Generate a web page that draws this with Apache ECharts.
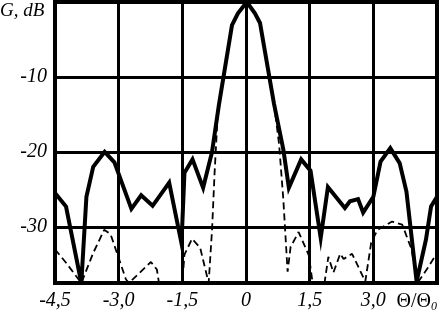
<!DOCTYPE html>
<html><head><meta charset="utf-8">
<script src="https://cdn.jsdelivr.net/npm/echarts@6/dist/echarts.min.js"></script>
<style>html,body{margin:0;padding:0;background:#fff}#c{width:440px;height:314px}</style>
</head><body><div id="c"></div>
<script>
const xTicks = [-4.5, -3, -1.5, 0, 1.5, 3, 4.5];
const xTickLabels = ['-4,5', '-3,0', '-1,5', '0', '1,5', '3,0', 'Θ/Θ0'];
const yTicks = [-30, -20, -10];
const yTickLabels = ['-30', '-20', '-10'];
const yName = 'G, dB';

const solidTheta = [-4.5, -4.24, -3.88, -3.76, -3.6, -3.33, -3.1, -2.7, -2.47, -2.2, -1.81, -1.52, -1.45, -1.26, -1.01, -0.8, -0.64, -0.33, -0.19, 0.02, 0.21, 0.33, 0.66, 0.88, 1.01, 1.3, 1.52, 1.76, 1.93, 2.33, 2.45, 2.64, 2.76, 3.0, 3.17, 3.4, 3.62, 3.78, 4.02, 4.24, 4.36, 4.5];
const solidGain = [-25.5, -27.3, -37.5, -26, -22, -20, -21.4, -27.6, -25.8, -27.2, -24.1, -32.2, -22.8, -21, -24.8, -20, -13.8, -3.1, -1.5, 0, -1.5, -2.8, -13.6, -19.7, -24.8, -21, -22.5, -31.5, -24.7, -27.5, -26.6, -26.3, -28.1, -26, -21.3, -19.5, -21.5, -25.3, -37.3, -31.7, -27.3, -26];

const dashedTheta = [-4.5, -4.24, -3.88, -3.6, -3.34, -3.19, -2.83, -2.76, -2.24, -2.1, -2.05, -1.5, -1.45, -1.27, -1.08, -0.88, -0.8, -0.74, -0.66, -0.33, -0.19, 0.02, 0.21, 0.33, 0.66, 0.78, 0.88, 0.98, 1.05, 1.24, 1.48, 1.57, 1.85, 1.94, 2.06, 2.22, 2.3, 2.5, 2.81, 2.95, 3.1, 3.44, 3.68, 3.9, 4.04, 4.28, 4.5];
const dashedGain = [-33, -34.8, -37.5, -33.5, -30.4, -31, -37, -37.5, -34.7, -35.7, -37.5, -37.5, -33.7, -31.6, -32.8, -37.5, -30.4, -22.8, -14.3, -3.1, -1.5, 0, -1.5, -2.8, -13.6, -19, -26.4, -36, -32.7, -30.7, -33.8, -37.5, -37.5, -34, -36.1, -33.6, -34.3, -33.6, -37.3, -32.1, -30.4, -29.3, -29.7, -33, -37.5, -35.5, -33.5];

const pair = (xs, ys) => xs.map((x, i) => [x, ys[i]]);
const FONT = '"Liberation Serif", "Times New Roman", serif';

const chart = echarts.init(document.getElementById('c'), null, {renderer: 'canvas'});
chart.setOption({
  animation: false,
  backgroundColor: '#fff',
  grid: {left: 55, right: 2.5, top: 2, bottom: 31, show: true, borderWidth: 4, borderColor: '#000', containLabel: false},
  xAxis: {
    type: 'value', min: xTicks[0], max: xTicks[xTicks.length - 1], interval: 1.5,
    axisLine: {show: false}, axisTick: {show: false},
    splitLine: {show: true, lineStyle: {color: '#000', width: 3}},
    axisLabel: {
      margin: 8, color: '#000', fontFamily: FONT, fontStyle: 'italic', fontSize: 20,
      alignMaxLabel: 'right',
      formatter: v => {
        const i = xTicks.findIndex(t => Math.abs(t - v) < 1e-6);
        if (i < 0) return '';
        if (i === xTicks.length - 1) return '{a|Θ/Θ}{b|0}';
        return xTickLabels[i];
      },
      rich: {
        a: {fontFamily: FONT, fontSize: 20, color: '#000', fontStyle: 'normal'},
        b: {fontFamily: FONT, fontSize: 12, color: '#000', fontStyle: 'italic', verticalAlign: 'bottom', padding: [10, 0, 0, 0]}
      }
    }
  },
  yAxis: {
    type: 'value', min: -37.5, max: 0,
    axisLine: {show: false},
    axisTick: {show: false, customValues: yTicks},
    splitLine: {show: true, lineStyle: {color: '#000', width: 3}},
    axisLabel: {
      customValues: yTicks, margin: 8, color: '#000', fontFamily: FONT, fontStyle: 'italic', fontSize: 20,
      formatter: v => {
        const i = yTicks.findIndex(t => Math.abs(t - v) < 1e-6);
        return i < 0 ? '' : yTickLabels[i];
      }
    }
  },
  graphic: [{
    type: 'text', left: 0, top: 1,
    style: {text: yName, fill: '#000', font: 'italic 19px "Liberation Serif", serif'}
  }],
  series: [
    {type: 'line', data: pair(dashedTheta, dashedGain), symbol: 'none', clip: true,
     lineStyle: {color: '#000', width: 1.8, type: [7, 4]}, z: 3},
    {type: 'line', data: pair(solidTheta, solidGain), symbol: 'none', clip: true,
     lineStyle: {color: '#000', width: 4, join: 'miter'}, z: 4}
  ]
});
</script>
</body></html>
